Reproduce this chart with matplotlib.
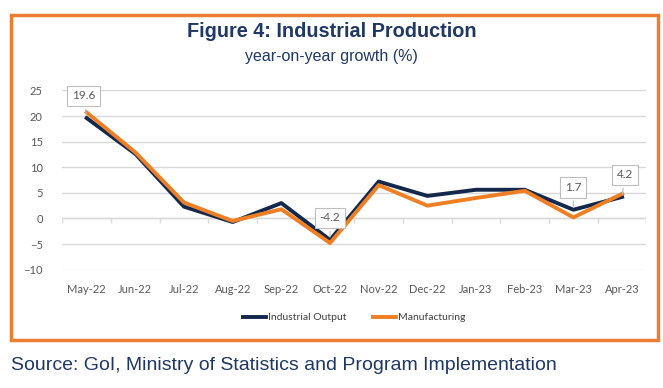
import matplotlib.pyplot as plt
from matplotlib.patches import Rectangle
import numpy as np

months = ["May-22", "Jun-22", "Jul-22", "Aug-22", "Sep-22", "Oct-22",
          "Nov-22", "Dec-22", "Jan-23", "Feb-23", "Mar-23", "Apr-23"]
industrial = [19.6, 12.6, 2.3, -0.7, 3.0, -4.2, 7.2, 4.4, 5.6, 5.6, 1.7, 4.2]
manufacturing = [20.7, 12.9, 3.1, -0.5, 1.8, -4.8, 6.5, 2.5, 4.0, 5.4, 0.2, 4.8]
labels_at = [0, 5, 10, 11]   # points with value boxes

navy = "#1F3864"
dark = "#14284B"
orange = "#F07F24"
grey = "#595959"

fig = plt.figure(figsize=(6.63, 3.88), dpi=100)
ax = fig.add_axes([0.094, 0.305, 0.881, 0.462])

x = np.arange(len(months))
ax.plot(x, industrial, color=dark, lw=2.8, label="Industrial Output", zorder=3)
ax.plot(x, manufacturing, color=orange, lw=2.8, label="Manufacturing", zorder=4)

ax.set_xlim(-0.5, len(months) - 0.5)
ax.set_ylim(-10, 25)
ax.set_yticks(range(-10, 26, 5))
ax.set_xticks(x)
ax.set_xticklabels(months)
ax.grid(axis="y", color="#D9D9D9", lw=1)
ax.set_axisbelow(True)
for s in ax.spines.values():
    s.set_visible(False)
ax.tick_params(length=0, labelsize=8, colors=grey, pad=10)
for t in ax.get_xticklabels() + ax.get_yticklabels():
    t.set_fontfamily("Lato")
ax.tick_params(axis="y", pad=14)

# zero line with boundary ticks
ax.axhline(0, color="#D9D9D9", lw=1, zorder=1)
ax.vlines(np.arange(-0.5, len(months)), 0, -0.8, color="#D9D9D9", lw=1, zorder=1)

# value callouts
offsets = {0: (-2, 12), 5: (0, 12), 10: (0, 12), 11: (2, 12)}
for i in labels_at:
    ax.annotate(f"{industrial[i]:.1f}", (x[i], industrial[i]),
                xytext=offsets[i], textcoords="offset points",
                ha="center", va="bottom", fontsize=8.5, color=grey, family="Lato",
                bbox=dict(boxstyle="square,pad=0.4", fc="white", ec="#BFBFBF", lw=0.8),
                arrowprops=dict(arrowstyle="-", color="#BFBFBF", lw=0.8),
                zorder=5)

leg = ax.legend(loc="upper center", bbox_to_anchor=(0.5, -0.19), ncol=2,
                frameon=False, handlelength=2.2, columnspacing=2.5,
                handletextpad=0.2, prop={"family": "Lato", "size": 7.5})
for t in leg.get_texts():
    t.set_color("#404040")

fig.text(0.5, 0.92, "Figure 4: Industrial Production", ha="center", va="center",
         fontsize=14.3, fontweight="bold", color=navy, family="Liberation Sans")
fig.text(0.5, 0.855, "year-on-year growth (%)", ha="center", va="center",
         fontsize=11.5, color=navy, family="Liberation Sans")

fig.patches.append(Rectangle((0.016, 0.124), 0.977, 0.838, transform=fig.transFigure,
                             fill=False, ec="#ED7D31", lw=2.5))

fig.text(0.016, 0.058, "Source: GoI, Ministry of Statistics and Program Implementation",
         ha="left", va="center", fontsize=14, color=navy, family="Liberation Sans")

fig.savefig("out.png", dpi=100)
